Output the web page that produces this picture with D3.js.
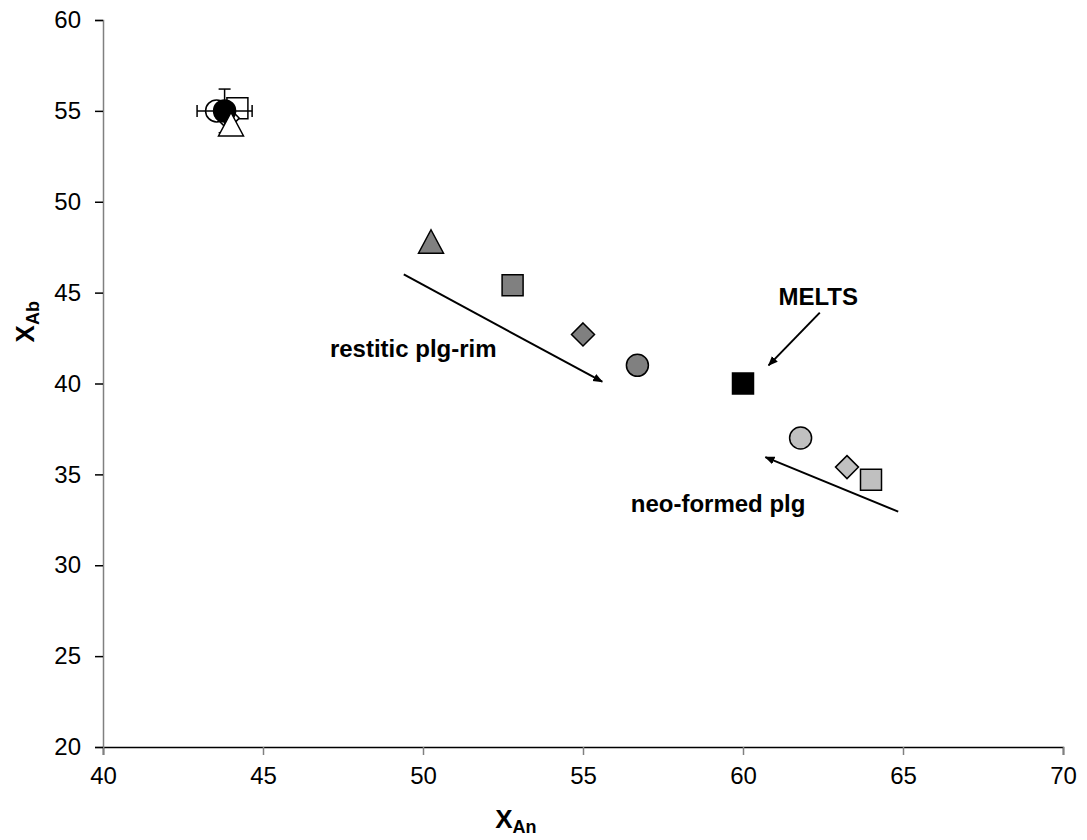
<!DOCTYPE html>
<html>
<head>
<meta charset="utf-8">
<script src="https://cdn.jsdelivr.net/npm/d3@7"></script>
<style>
  body { margin: 0; background: #fff; }
  svg { font-family: "Liberation Sans", Arial, sans-serif; }
</style>
</head>
<body>
<svg id="chart" width="1087" height="840"></svg>
<script>
// starting plagioclase (open markers) + mean with error bars
const startShapes = ["square", "circle", "diamond", "triangle"];
const startAn = [44.2, 43.55, 43.9, 44.0];
const startAb = [55.15, 55.0, 54.6, 54.25];
const meanAn = [43.8];
const meanAb = [55.0];
const errAn = [0.86];
const errAb = [1.2];

// restitic plagioclase rims
const restiticShapes = ["triangle", "square", "diamond", "circle"];
const restiticAn = [50.25, 52.8, 55.0, 56.7];
const restiticAb = [47.8, 45.4, 42.7, 41.0];

// MELTS
const meltsAn = [60.0];
const meltsAb = [40.0];

// neo-formed plagioclase
const neoShapes = ["circle", "diamond", "square"];
const neoAn = [61.8, 63.25, 64.0];
const neoAb = [37.0, 35.4, 34.7];

// annotations (arrow tail, arrow head, label anchor)
const noteLabels = ["restitic plg-rim", "MELTS", "neo-formed plg"];
const noteFrom = [[49.4, 46.0], [62.4, 43.9], [64.85, 32.95]];
const noteTo = [[55.6, 40.1], [60.8, 41.0], [60.7, 35.95]];
const noteAt = [[52.3, 41.9], [62.35, 44.8], [61.95, 33.4]];
const noteAnchor = ["end", "middle", "end"];

const xTicks = [40, 45, 50, 55, 60, 65, 70];
const yTicks = [20, 25, 30, 35, 40, 45, 50, 55, 60];

const svg = d3.select("#chart");
const margin = {left: 103, right: 24, top: 20, bottom: 93};
const width = 1087, height = 840;

const x = d3.scaleLinear().domain([40, 70]).range([margin.left, width - margin.right]);
const y = d3.scaleLinear().domain([20, 60]).range([height - margin.bottom, margin.top]);

// axes
const xAxis = svg.append("g")
    .attr("transform", `translate(0,${y(20)})`)
    .call(d3.axisBottom(x).tickValues(xTicks).tickSizeOuter(0).tickSize(8).tickPadding(12));
xAxis.select(".domain").attr("stroke", "#000").attr("stroke-width", 1.5);
xAxis.selectAll(".tick line").attr("stroke", "#808080").attr("stroke-width", 1.5);
xAxis.selectAll(".tick text").attr("font-size", 24).attr("fill", "#000")
    .attr("font-family", "Liberation Sans, Arial, sans-serif");

const yAxis = svg.append("g")
    .attr("transform", `translate(${x(40)},0)`)
    .call(d3.axisLeft(y).tickValues(yTicks).tickSizeOuter(0).tickSize(8).tickPadding(14));
yAxis.select(".domain").attr("stroke", "#808080").attr("stroke-width", 1.5);
yAxis.selectAll(".tick line").attr("stroke", "#000").attr("stroke-width", 1.5);
yAxis.selectAll(".tick text").attr("font-size", 24).attr("fill", "#000")
    .attr("font-family", "Liberation Sans, Arial, sans-serif");

// axis titles
const xt = svg.append("text")
    .attr("x", x(52.9)).attr("y", 828)
    .attr("text-anchor", "middle")
    .attr("font-weight", "bold").attr("font-size", 26);
xt.append("tspan").text("X");
xt.append("tspan").attr("font-size", 18).attr("dy", 5).text("An");

const yt = svg.append("text")
    .attr("transform", `translate(34,${y(43.4)}) rotate(-90)`)
    .attr("text-anchor", "middle")
    .attr("font-weight", "bold").attr("font-size", 26);
yt.append("tspan").text("X");
yt.append("tspan").attr("font-size", 18).attr("dy", 5).text("Ab");

// marker paths
function shapePath(s) {
  if (s === "square") return "M-10.5,-10.5H10.5V10.5H-10.5Z";
  if (s === "diamond") return "M0,-11.5L11.5,0L0,11.5L-11.5,0Z";
  if (s === "triangle") return "M0,-12L12.5,11.5H-12.5Z";
  return d3.symbol(d3.symbolCircle, Math.PI * 121)();
}

function drawSeries(shapes, xs, ys, fill) {
  const g = svg.append("g");
  g.selectAll("path").data(shapes).enter().append("path")
      .attr("d", d => shapePath(d))
      .attr("transform", (d, i) => `translate(${x(xs[i])},${y(ys[i])})`)
      .attr("fill", fill)
      .attr("stroke", "#000")
      .attr("stroke-width", 1.5);
}

// open markers behind, mean with error bars, triangle on top
drawSeries(startShapes.slice(0, 3), startAn.slice(0, 3), startAb.slice(0, 3), "#fff");

const eb = svg.append("g").attr("stroke", "#000").attr("stroke-width", 1.5);
meanAn.forEach((m, i) => {
  const cx = x(m), cy = y(meanAb[i]);
  const x0 = x(m - errAn[i]), x1 = x(m + errAn[i]);
  const y0 = y(meanAb[i] - errAb[i]), y1 = y(meanAb[i] + errAb[i]);
  eb.append("line").attr("x1", x0).attr("x2", x1).attr("y1", cy).attr("y2", cy);
  eb.append("line").attr("x1", x0).attr("x2", x0).attr("y1", cy - 6).attr("y2", cy + 6);
  eb.append("line").attr("x1", x1).attr("x2", x1).attr("y1", cy - 6).attr("y2", cy + 6);
  eb.append("line").attr("x1", cx).attr("x2", cx).attr("y1", y0).attr("y2", y1);
  eb.append("line").attr("x1", cx - 6).attr("x2", cx + 6).attr("y1", y0).attr("y2", y0);
  eb.append("line").attr("x1", cx - 6).attr("x2", cx + 6).attr("y1", y1).attr("y2", y1);
});
drawSeries(["circle"], meanAn, meanAb, "#000");
drawSeries(startShapes.slice(3), startAn.slice(3), startAb.slice(3), "#fff");

drawSeries(restiticShapes, restiticAn, restiticAb, "#808080");
drawSeries(["square"], meltsAn, meltsAb, "#000");
drawSeries(neoShapes, neoAn, neoAb, "#c0c0c0");

// arrows
svg.append("defs").append("marker")
    .attr("id", "arrow")
    .attr("viewBox", "0 0 10 10")
    .attr("refX", 9).attr("refY", 5)
    .attr("markerWidth", 5).attr("markerHeight", 5)
    .attr("orient", "auto")
  .append("path").attr("d", "M0,1L10,5L0,9Z").attr("fill", "#000");

const notes = svg.append("g");
noteLabels.forEach((lab, i) => {
  notes.append("line")
      .attr("x1", x(noteFrom[i][0])).attr("y1", y(noteFrom[i][1]))
      .attr("x2", x(noteTo[i][0])).attr("y2", y(noteTo[i][1]))
      .attr("stroke", "#000").attr("stroke-width", 2)
      .attr("marker-end", "url(#arrow)");
  notes.append("text")
      .attr("x", x(noteAt[i][0])).attr("y", y(noteAt[i][1]))
      .attr("dy", "0.35em")
      .attr("text-anchor", noteAnchor[i])
      .attr("font-weight", "bold").attr("font-size", 24)
      .text(lab);
});
</script>
</body>
</html>
